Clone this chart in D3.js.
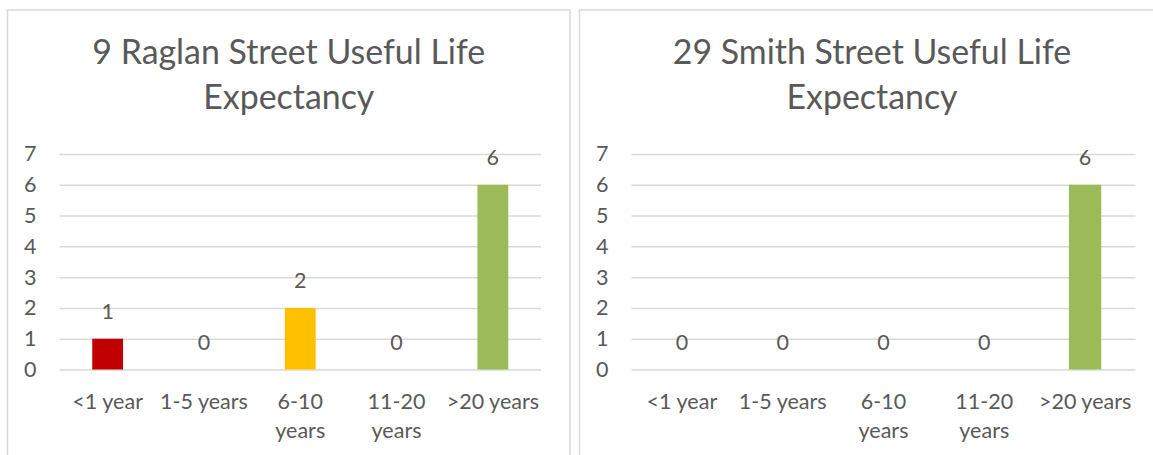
<!DOCTYPE html>
<html>
<head>
<meta charset="utf-8">
<script src="https://cdn.jsdelivr.net/npm/d3@7"></script>
<style>
    body { margin: 0; background: #fff; }
    svg { display: block; }
    text { font-family: Lato, "Open Sans", sans-serif; fill: #595959; }
</style>
</head>
<body>
<div id="chart"></div>
<script>
// Useful life expectancy bar charts, two buildings side by side

const categories = ["<1 year", "1-5 years", "6-10 years", "11-20 years", ">20 years"];
const raglanValues = [1, 0, 2, 0, 6];
const smithValues = [0, 0, 0, 0, 6];
const barColors = ["#C00000", "#ED7D31", "#FFC000", "#5B9BD5", "#9BBB59"];
const yTicks = [0, 1, 2, 3, 4, 5, 6, 7];
const raglanTitle = ["9 Raglan Street Useful Life", "Expectancy"];
const smithTitle = ["29 Smith Street Useful Life", "Expectancy"];

class BarPanel {

    constructor(svg, box, titleLines, values){
        this.svg = svg;
        this.box = box;
        this.titleLines = titleLines;
        this.values = values;

        this.initVis();
    }

    initVis(){
        let vis = this;

        vis.margin = {top: 144, right: 29, bottom: 100, left: 52};
        vis.width = vis.box.w - vis.margin.left - vis.margin.right;
        vis.height = 369.5 - vis.box.y - vis.margin.top;

        // panel frame
        vis.svg.append("rect")
            .attr("x", vis.box.x)
            .attr("y", vis.box.y)
            .attr("width", vis.box.w)
            .attr("height", vis.box.h)
            .attr("fill", "#fff")
            .attr("stroke", "#d9d9d9")
            .attr("stroke-width", 1.5);

        vis.g = vis.svg.append("g")
            .attr("transform", "translate(" + (vis.box.x + vis.margin.left) + "," + (vis.box.y + vis.margin.top) + ")");

        vis.x = d3.scaleBand()
            .domain(categories)
            .range([0, vis.width])
            .paddingInner(0.68)
            .paddingOuter(0.34);

        vis.y = d3.scaleLinear()
            .domain([0, 7])
            .range([vis.height, 0]);

        vis.updateVis();
    }

    updateVis(){
        let vis = this;

        // title
        vis.svg.append("text")
            .attr("text-anchor", "middle")
            .attr("font-size", titleSize)
            .selectAll("tspan")
            .data(vis.titleLines)
            .enter()
            .append("tspan")
            .attr("x", vis.box.x + vis.box.w / 2)
            .attr("y", (d, i) => 64 + i * 45)
            .text(d => d);

        // gridlines
        let yAxis = d3.axisLeft(vis.y)
            .tickValues(yTicks)
            .tickFormat(d3.format("d"))
            .tickSize(-vis.width)
            .tickPadding(23);

        vis.g.append("g")
            .attr("class", "y-axis")
            .call(yAxis)
            .call(g => g.select(".domain").remove())
            .call(g => g.selectAll("line").attr("stroke", "#d9d9d9").attr("stroke-width", 1.5))
            .call(g => g.selectAll("text")
                .attr("font-size", labelSize)
                .attr("font-family", null)
                .attr("fill", "#595959"));

        // bars
        vis.g.selectAll(".bar")
            .data(vis.values)
            .enter()
            .append("rect")
            .attr("class", "bar")
            .attr("x", (d, i) => vis.x(categories[i]))
            .attr("y", d => vis.y(d))
            .attr("width", vis.x.bandwidth())
            .attr("height", d => vis.height - vis.y(d))
            .attr("fill", (d, i) => barColors[i]);

        // data labels
        vis.g.selectAll(".value-label")
            .data(vis.values)
            .enter()
            .append("text")
            .attr("class", "value-label")
            .attr("text-anchor", "middle")
            .attr("font-size", labelSize)
            .attr("x", (d, i) => vis.x(categories[i]) + vis.x.bandwidth() / 2)
            .attr("y", d => vis.y(d) - 20)
            .text(d => d);

        // category labels, wrapped when wider than a band
        let cat = vis.g.selectAll(".cat-label")
            .data(categories)
            .enter()
            .append("text")
            .attr("class", "cat-label")
            .attr("text-anchor", "middle")
            .attr("font-size", labelSize)
            .attr("transform", d => "translate(" + (vis.x(d) + vis.x.bandwidth() / 2) + "," + (vis.height + 39) + ")");

        cat.each(function(d){
            let el = d3.select(this);
            el.text(d);
            let lines = [d];
            if (this.getComputedTextLength() > 95){
                let words = d.split(" ");
                lines = [words.slice(0, -1).join(" "), words[words.length - 1]];
            }
            el.text(null);
            el.selectAll("tspan")
                .data(lines)
                .enter()
                .append("tspan")
                .attr("x", 0)
                .attr("y", (l, i) => i * 29)
                .text(l => l);
        });
    }
}

let svg = d3.select("#chart").append("svg")
    .attr("width", 1153)
    .attr("height", 455);

// fit fallback font to the original title width
let probe = svg.append("text").attr("font-size", 37).text(raglanTitle[0]);
let fontScale = 393 / probe.node().getComputedTextLength();
probe.remove();
let titleSize = 37 * fontScale;
let labelSize = 23.5 * fontScale;

new BarPanel(svg, {x: 7.5, y: 10, w: 562.5, h: 470}, raglanTitle, raglanValues);
new BarPanel(svg, {x: 579.5, y: 10, w: 585, h: 470}, smithTitle, smithValues);
</script>
</body>
</html>
